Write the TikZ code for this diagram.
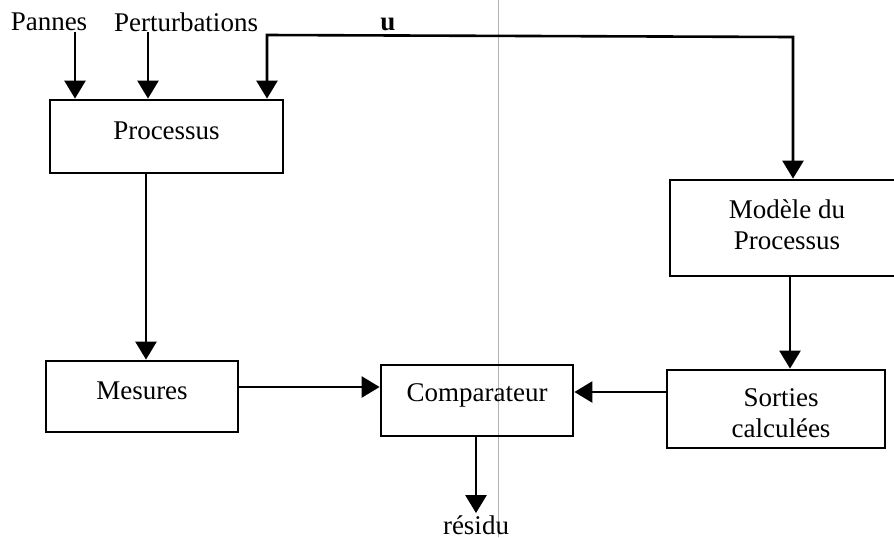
\documentclass[tikz,border=0pt]{standalone}
\usepackage{fontspec}
\setmainfont{Liberation Serif}
\usetikzlibrary{arrows.meta}
\begin{document}
\begin{tikzpicture}[x=0.5pt,y=-0.5pt,
  font=\fontsize{13.5}{15.5}\selectfont,
  block/.style={draw,line width=1.4pt,inner sep=0pt,align=center},
  tip/.style={Triangle[width=10.5pt,length=9pt]},
  flow/.style={line width=1.3pt,-{Triangle[width=10.5pt,length=9pt]}},
  feed/.style={line width=1.3pt,{Triangle[width=10.5pt,length=9pt]}-{Triangle[width=10.5pt,length=9pt]}},
  lbl/.style={inner sep=1pt}]
\clip (0,0) rectangle (894,537);
\fill[white] (0,0) rectangle (894,537);
% fold line of the page
\draw[black!30,line width=0.4pt] (498,0) -- (498,537);

% blocks
\node[block,minimum width=116.5pt,minimum height=36.5pt] (proc) at (166.5,136.5) {};
\node[block,minimum width=117pt,minimum height=48pt] (mod) at (787,228) {};
\node[block,minimum width=96pt,minimum height=35.5pt] (mes) at (142,396.5) {};
\node[block,minimum width=96pt,minimum height=35.5pt] (comp) at (477,400.5) {};
\node[block,minimum width=109pt,minimum height=39pt] (sort) at (776,409) {};

% block texts, set slightly above the box centres
\node[align=center] (proct) at (166.5,131) {Processus};
\node[align=center] (modt) at (787,225) {Modèle du\\Processus};
\node[align=center] (mest) at (142,391) {Mesures};
\node[align=center] (compt) at (477,395) {Comparateur};
\node[align=center] (sortt) at (781,413) {Sorties\\calculées};

% input labels
\node[lbl] (pannes) at (49,22) {Pannes};
\node[lbl] (pert) at (186,22) {Perturbations};
\node[lbl,font=\fontsize{13.5}{15.5}\selectfont\bfseries] (u) at (388,24) {u};
\node[lbl] (res) at (476,525) {résidu};

% anchor points of the connectors
\coordinate (pin) at (75,32);
\coordinate (tin) at (148,32);
\coordinate (ul) at (267,35);
\coordinate (ur) at (793,37);

% inputs of the process
\draw[flow] (pin) -- (pin |- proc.north);
\draw[flow] (tin) -- (tin |- proc.north);
\draw[feed] (proc.north -| ul) -- (ul) -- (ur) -- (mod.north -| ur);

% measurement and model branches
\draw[flow] (proc.south -| 146,0) -- (mes.north -| 146,0);
\draw[flow] (mod.south -| 790,0) -- (sort.north -| 790,0);
\draw[flow] (mes.east |- 0,387) -- (comp.west |- 0,387);
\draw[flow] (sort.west |- 0,392) -- (comp.east |- 0,392);

% residual output
\draw[flow] (comp.south -| 476,0) -- (res.north -| 476,0);
\end{tikzpicture}
\end{document}
